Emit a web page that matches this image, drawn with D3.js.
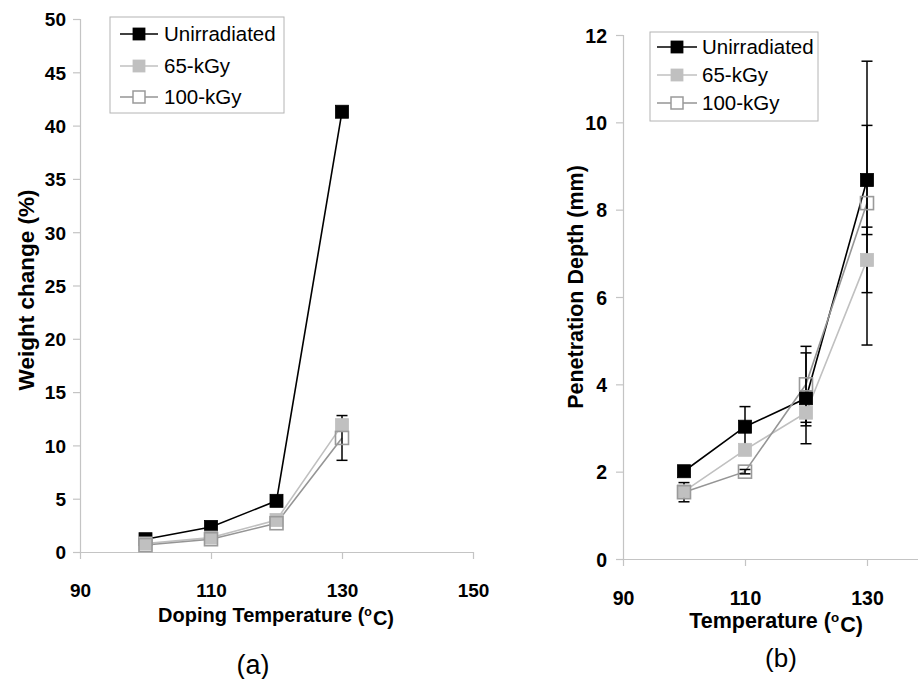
<!DOCTYPE html>
<html>
<head>
<meta charset="utf-8">
<script src="https://cdn.jsdelivr.net/npm/d3@7"></script>
<style>
  body { margin: 0; background: #fff; }
  svg { display: block; font-family: "Liberation Sans", Arial, sans-serif; }
</style>
</head>
<body>
<svg id="fig" width="918" height="679"></svg>
<script>
// ---- data ----
const seriesNames = ["Unirradiated", "65-kGy", "100-kGy"];
const temps = [100, 110, 120, 130];

// (a) weight change after doping, %
const weightUnirr = [1.2, 2.35, 4.8, 41.3];
const weight65    = [0.8, 1.35, 3.0, 11.9];
const weight100   = [0.65, 1.2, 2.7, 10.7];
const weightErrUnirr = [0, 0, 0, 0];
const weightErr65    = [0, 0, 0, 0];
const weightErr100   = [0, 0, 0, 2.1];

// (b) penetration depth, mm
const depthUnirr = [2.01, 3.03, 3.68, 8.68];
const depth65    = [1.55, 2.5, 3.35, 6.85];
const depth100   = [1.53, 2.0, 4.0, 8.15];
const depthErrUnirr = [0, 0.46, 1.04, 1.25];
const depthErr65    = [0, 0, 0.3, 0.75];
const depthErr100   = [0.22, 0.05, 0.87, 3.25];

const ticksWeight = [0, 5, 10, 15, 20, 25, 30, 35, 40, 45, 50];
const ticksDepth  = [0, 2, 4, 6, 8, 10, 12];
const ticksTempA  = [90, 110, 130, 150];
const ticksTempB  = [90, 110, 130];

// ---- styles ----
const FONT = '"Liberation Sans", Arial, sans-serif';
const styles = [
  { line: "#000000", fill: "#000000", stroke: "#000000" },
  { line: "#c0c0c0", fill: "#c0c0c0", stroke: "#c0c0c0" },
  { line: "#959595", fill: "none",    stroke: "#9a9a9a" }
];
const axisColor = "#c4c4c4";
const svg = d3.select("#fig");

function drawPanel(cfg) {
  const x = d3.scaleLinear().domain(cfg.xDomain).range(cfg.xRange);
  const y = d3.scaleLinear().domain(cfg.yDomain).range(cfg.yRange);
  const g = svg.append("g");

  // y axis
  const yAxis = g.append("g")
    .attr("transform", `translate(${cfg.xRange[0]},0)`)
    .call(d3.axisLeft(y).tickValues(cfg.yTicks).tickSize(7).tickFormat(d3.format("d")))
    .attr("font-family", FONT);
  yAxis.select(".domain").attr("stroke", axisColor).attr("stroke-width", 1.2);
  yAxis.selectAll(".tick line").attr("stroke", axisColor).attr("stroke-width", 1.2);
  yAxis.selectAll(".tick text")
    .attr("x", cfg.yLabelX - cfg.xRange[0])
    .attr("dy", "0.36em")
    .attr("fill", "#000")
    .style("font-family", FONT)
    .style("font-size", cfg.tickFont + "px")
    .style("font-weight", "bold");

  // x axis
  const xAxis = g.append("g")
    .attr("transform", `translate(0,${cfg.yRange[0]})`)
    .call(d3.axisBottom(x).tickValues(cfg.xTicks).tickSize(7).tickSizeOuter(0).tickFormat(d3.format("d")))
    .attr("font-family", FONT);
  xAxis.select(".domain").attr("stroke", axisColor).attr("stroke-width", 1.2);
  xAxis.selectAll(".tick line").attr("stroke", axisColor).attr("stroke-width", 1.2);
  xAxis.selectAll(".tick text")
    .attr("y", cfg.xLabelY - cfg.yRange[0])
    .attr("dy", 0)
    .attr("fill", "#000")
    .style("font-family", FONT)
    .style("font-size", cfg.tickFont + "px")
    .style("font-weight", "bold");

  const line = d3.line().x(d => x(d.t)).y(d => y(d.v));

  const data = cfg.series.map((s, i) => ({
    name: seriesNames[i],
    style: styles[i],
    pts: temps.map((t, k) => ({ t, v: s.values[k], e: s.errors[k] }))
  }));

  // series lines
  data.forEach(s => {
    g.append("path")
      .datum(s.pts)
      .attr("d", line)
      .attr("fill", "none")
      .attr("stroke", s.style.line)
      .attr("stroke-width", 1.6);
  });

  // error bars
  data.forEach(s => {
    const eb = g.append("g").attr("stroke", "#000").attr("stroke-width", 1.5);
    s.pts.filter(p => p.e > 0).forEach(p => {
      const cx = x(p.t);
      eb.append("line").attr("x1", cx).attr("x2", cx).attr("y1", y(p.v - p.e)).attr("y2", y(p.v + p.e));
      [p.v - p.e, p.v + p.e].forEach(v => {
        eb.append("line").attr("x1", cx - 5.5).attr("x2", cx + 5.5).attr("y1", y(v)).attr("y2", y(v));
      });
    });
  });

  // markers
  const ms = 13;
  data.forEach(s => {
    g.append("g").selectAll("rect")
      .data(s.pts)
      .join("rect")
      .attr("x", d => x(d.t) - ms / 2)
      .attr("y", d => y(d.v) - ms / 2)
      .attr("width", ms)
      .attr("height", ms)
      .attr("fill", s.style.fill)
      .attr("stroke", s.style.stroke)
      .attr("stroke-width", s.style.fill === "none" ? 1.6 : 0.8);
  });

  // axis titles
  const xt = g.append("text")
    .attr("x", cfg.xTitle.x).attr("y", cfg.xTitle.y)
    .attr("text-anchor", "middle")
    .style("font-size", cfg.xTitle.size + "px")
    .style("font-weight", "bold");
  xt.append("tspan").text(cfg.xTitle.text + " (");
  xt.append("tspan").text("o").attr("dy", "-0.45em").style("font-size", "0.62em");
  xt.append("tspan").text("C)").attr("dy", "0.45em").attr("dx", "0.05em");

  g.append("text")
    .attr("transform", `translate(${cfg.yTitle.x},${cfg.yTitle.y}) rotate(-90)`)
    .attr("text-anchor", "middle")
    .attr("dy", "0.36em")
    .style("font-size", cfg.yTitle.size + "px")
    .style("font-weight", "bold")
    .text(cfg.yTitle.text);

  // panel caption
  g.append("text")
    .attr("x", cfg.caption.x).attr("y", cfg.caption.y)
    .attr("text-anchor", "middle")
    .style("font-size", cfg.caption.size + "px")
    .text(cfg.caption.text);

  // legend
  const L = cfg.legend;
  const lg = g.append("g");
  lg.append("rect")
    .attr("x", L.x).attr("y", L.y).attr("width", L.w).attr("height", L.h)
    .attr("fill", "#fff").attr("stroke", "#b4b4b4").attr("stroke-width", 1);
  data.forEach((s, i) => {
    const cy = L.rowY[i];
    lg.append("line")
      .attr("x1", L.lineX[0]).attr("x2", L.lineX[1]).attr("y1", cy).attr("y2", cy)
      .attr("stroke", s.style.line).attr("stroke-width", 1.6);
    const lm = 12;
    lg.append("rect")
      .attr("x", (L.lineX[0] + L.lineX[1]) / 2 - lm / 2).attr("y", cy - lm / 2)
      .attr("width", lm).attr("height", lm)
      .attr("fill", s.style.fill === "none" ? "#fff" : s.style.fill)
      .attr("stroke", s.style.stroke)
      .attr("stroke-width", s.style.fill === "none" ? 1.5 : 0.8);
    lg.append("text")
      .attr("x", L.textX).attr("y", cy).attr("dy", "0.36em")
      .style("font-size", L.size + "px")
      .text(s.name);
  });
}

drawPanel({
  xDomain: [90, 150], xRange: [80, 473],
  yDomain: [0, 50], yRange: [552, 19],
  yTicks: ticksWeight, xTicks: ticksTempA,
  tickFont: 19, yLabelX: 66, xLabelY: 597,
  series: [
    { values: weightUnirr, errors: weightErrUnirr },
    { values: weight65, errors: weightErr65 },
    { values: weight100, errors: weightErr100 }
  ],
  xTitle: { text: "Doping Temperature", x: 276, y: 622, size: 20 },
  yTitle: { text: "Weight change (%)", x: 26, y: 290, size: 22.5 },
  caption: { text: "(a)", x: 253, y: 674, size: 27 },
  legend: { x: 110, y: 17, w: 174, h: 96, rowY: [34, 66, 97], lineX: [120, 158], textX: 164, size: 20.5 }
});

drawPanel({
  xDomain: [90, 140], xRange: [623, 928],
  yDomain: [0, 12], yRange: [559, 35],
  yTicks: ticksDepth, xTicks: ticksTempB,
  tickFont: 19.5, yLabelX: 607, xLabelY: 605,
  series: [
    { values: depthUnirr, errors: depthErrUnirr },
    { values: depth65, errors: depthErr65 },
    { values: depth100, errors: depthErr100 }
  ],
  xTitle: { text: "Temperature", x: 776, y: 628, size: 21.5 },
  yTitle: { text: "Penetration Depth (mm)", x: 575, y: 287, size: 21.5 },
  caption: { text: "(b)", x: 781, y: 667, size: 26 },
  legend: { x: 650, y: 32, w: 168, h: 89, rowY: [47, 75, 103], lineX: [657, 697], textX: 702, size: 20.5 }
});
</script>
</body>
</html>
